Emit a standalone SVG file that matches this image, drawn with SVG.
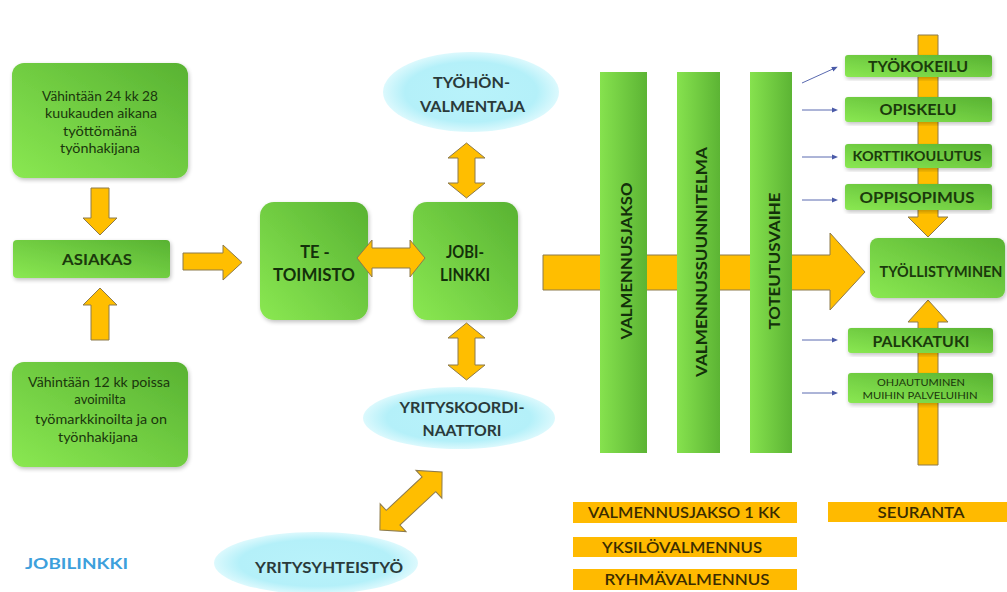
<svg xmlns="http://www.w3.org/2000/svg" width="1007" height="592" viewBox="0 0 1007 592">
<defs>
<linearGradient id="gr" x1="1" y1="0" x2="0" y2="1">
<stop offset="0" stop-color="#58b232"/>
<stop offset="1" stop-color="#8ae852"/>
</linearGradient>
<linearGradient id="grv" x1="1" y1="0" x2="0" y2="0">
<stop offset="0" stop-color="#5cb434"/>
<stop offset="1" stop-color="#86e24e"/>
</linearGradient>
<radialGradient id="cy" cx="0.5" cy="0.5" r="0.5">
<stop offset="0" stop-color="#b8f2fa"/>
<stop offset="0.75" stop-color="#b4f0f9"/>
<stop offset="1" stop-color="#dcf9fd"/>
</radialGradient>
<filter id="sh" x="-10%" y="-10%" width="125%" height="125%">
<feGaussianBlur in="SourceAlpha" stdDeviation="2"/>
<feOffset dx="1" dy="2"/>
<feComponentTransfer><feFuncA type="linear" slope="0.25"/></feComponentTransfer>
<feMerge><feMergeNode/><feMergeNode in="SourceGraphic"/></feMerge>
</filter>
<marker id="dot" markerWidth="6" markerHeight="6" refX="3" refY="3" orient="auto" markerUnits="userSpaceOnUse">
<path d="M0,0.5 L6,3 L0,5.5 Z" fill="#4a5aa8"/>
</marker>
</defs>
<style>
.box{fill:url(#gr);filter:url(#sh)}
.bar{fill:url(#grv)}
.ell{fill:url(#cy)}
.arr{fill:#ffbe00;stroke:#8c7a4c;stroke-width:1;stroke-linejoin:miter}
.thin{stroke:#5a6ab0;stroke-width:1;fill:none;marker-end:url(#dot)}
.ob{fill:#ffba00}
text{font-family:Lato,"Open Sans","Liberation Sans",sans-serif;text-anchor:middle}
.t{fill:#1a360c;font-size:13px}
.b{fill:#13300a;font-weight:bold;font-size:16.5px}
.c{fill:#2a3a3a;font-weight:bold;font-size:16px}
.r{fill:#1b3a0c;font-weight:bold;font-size:15.5px}
.o{fill:#3a2c00;font-size:16px;font-weight:600}
</style>
<rect width="1007" height="592" fill="#ffffff"/>

<g id="vaatimus1">
<rect class="box" x="12" y="63" width="176" height="115" rx="12"/>
<text class="t" x="100" y="101" textLength="116" lengthAdjust="spacingAndGlyphs">Vähintään 24 kk 28</text>
<text class="t" x="101" y="118" textLength="112" lengthAdjust="spacingAndGlyphs">kuukauden aikana</text>
<text class="t" x="100" y="136" textLength="74" lengthAdjust="spacingAndGlyphs">työttömänä</text>
<text class="t" x="100" y="153" textLength="80" lengthAdjust="spacingAndGlyphs">työnhakijana</text>
</g>
<g id="asiakas">
<rect class="box" x="13" y="240" width="157" height="38" rx="4"/>
<text class="r" x="97" y="265" style="font-size:16px" textLength="70" lengthAdjust="spacingAndGlyphs">ASIAKAS</text>
</g>
<g id="vaatimus2">
<rect class="box" x="12" y="362" width="176" height="105" rx="12"/>
<text class="t" x="99" y="387" textLength="142" lengthAdjust="spacingAndGlyphs">Vähintään 12 kk poissa</text>
<text class="t" x="100" y="404">avoimilta</text>
<text class="t" x="101" y="424" textLength="132" lengthAdjust="spacingAndGlyphs">työmarkkinoilta  ja on</text>
<text class="t" x="98" y="442" textLength="80" lengthAdjust="spacingAndGlyphs">työnhakijana</text>
</g>
<g id="te-toimisto">
<rect class="box" x="260" y="202" width="108" height="118" rx="14"/>
<text class="b" x="315" y="258">TE -</text>
<text class="b" x="314" y="281" textLength="82" lengthAdjust="spacingAndGlyphs">TOIMISTO</text>
</g>
<g id="jobilinkki">
<rect class="box" x="413" y="202" width="105" height="118" rx="14"/>
<text class="b" x="465" y="258" textLength="38" lengthAdjust="spacingAndGlyphs">JOBI-</text>
<text class="b" x="465" y="281" textLength="50" lengthAdjust="spacingAndGlyphs">LINKKI</text>
</g>
<g id="tyohonvalmentaja">
<ellipse class="ell" cx="471" cy="92" rx="88" ry="40"/>
<text class="c" x="471.5" y="88" textLength="77" lengthAdjust="spacingAndGlyphs">TYÖHÖN-</text>
<text class="c" x="472.5" y="112" textLength="105" lengthAdjust="spacingAndGlyphs">VALMENTAJA</text>
</g>
<g id="yrityskoordinaattori">
<ellipse class="ell" cx="459" cy="418" rx="96" ry="31"/>
<text class="c" x="462" y="413" textLength="125" lengthAdjust="spacingAndGlyphs">YRITYSKOORDI-</text>
<text class="c" x="462" y="436" textLength="79" lengthAdjust="spacingAndGlyphs">NAATTORI</text>
</g>
<g id="yritysyhteistyo">
<ellipse class="ell" cx="316" cy="563" rx="102" ry="31"/>
<text class="c" x="329" y="573" textLength="148" lengthAdjust="spacingAndGlyphs">YRITYSYHTEISTYÖ</text>
</g>

<g id="connectors">
<path class="arr" d="M91,188 H109 V218 H117 L100,235 L83,218 H91 Z"/>
<path class="arr" d="M100,288 L117,305 H109 V340 H91 V305 H83 Z"/>
<path class="arr" d="M183,253 H223 V245 L242,262.5 L223,280 V270 H183 Z"/>
<path class="arr" d="M357,258 L372,240 V248 H410 V240 L425,258 L410,277 V268 H372 V277 Z"/>
<path class="arr" d="M466.5,143 L485,158 H475 V183 H485 L466.5,198 L448,183 H458 V158 H448 Z"/>
<path class="arr" d="M466.5,323 L485,338 H475 V365 H485 L466.5,380 L448,365 H458 V338 H448 Z"/>
<path class="arr" transform="translate(411,501) rotate(-43)" d="M-42.5,0 L-24.5,-19 V-10 H24.5 V-19 L42.5,0 L24.5,19 V10 H-24.5 V19 Z"/>
<path class="arr" d="M543,255 H830 V233 L865,272 L830,310 V290 H543 Z"/>
<path class="arr" d="M918,35 H938 V217 H948 L928,237 L908,217 H918 Z"/>
<path class="arr" d="M928,300 L948,322 H938 V465 H918 V322 H908 Z"/>
<line class="thin" x1="802" y1="83" x2="835" y2="68"/>
<line class="thin" x1="802" y1="110" x2="835" y2="110"/>
<line class="thin" x1="802" y1="157" x2="835" y2="157"/>
<line class="thin" x1="802" y1="200" x2="835" y2="200"/>
<line class="thin" x1="802" y1="340" x2="835" y2="340"/>
<line class="thin" x1="802" y1="393" x2="835" y2="393"/>
</g>

<g id="valmennusjakso">
<rect class="bar" x="600" y="72" width="47" height="381"/>
<text class="b" style="font-size:16px" transform="translate(632,261) rotate(-90)" textLength="157" lengthAdjust="spacingAndGlyphs">VALMENNUSJAKSO</text>
</g>
<g id="valmennussuunnitelma">
<rect class="bar" x="677" y="72" width="43" height="381"/>
<text class="b" style="font-size:16px" transform="translate(707,262) rotate(-90)" textLength="230" lengthAdjust="spacingAndGlyphs">VALMENNUSSUUNNITELMA</text>
</g>
<g id="toteutusvaihe">
<rect class="bar" x="750" y="72" width="42" height="381"/>
<text class="b" style="font-size:16px" transform="translate(780,261) rotate(-90)" textLength="137" lengthAdjust="spacingAndGlyphs">TOTEUTUSVAIHE</text>
</g>
<g id="tyokokeilu">
<rect class="box" x="845" y="55" width="147" height="22" rx="3"/>
<text class="r" x="918" y="72" textLength="100" lengthAdjust="spacingAndGlyphs">TYÖKOKEILU</text>
</g>
<g id="opiskelu">
<rect class="box" x="845" y="97" width="147" height="25" rx="3"/>
<text class="r" x="918" y="115" textLength="77" lengthAdjust="spacingAndGlyphs">OPISKELU</text>
</g>
<g id="korttikoulutus">
<rect class="box" x="845" y="144" width="147" height="24" rx="3"/>
<text class="r" x="917" y="161" style="font-size:14px" textLength="129" lengthAdjust="spacingAndGlyphs">KORTTIKOULUTUS</text>
</g>
<g id="oppisopimus">
<rect class="box" x="845" y="184" width="147" height="26" rx="3"/>
<text class="r" x="917" y="203" style="font-size:16px" textLength="115" lengthAdjust="spacingAndGlyphs">OPPISOPIMUS</text>
</g>
<g id="tyollistyminen">
<rect class="box" x="870" y="238" width="135" height="60" rx="8"/>
<text class="r" x="941" y="277" style="font-size:15px" textLength="123" lengthAdjust="spacingAndGlyphs">TYÖLLISTYMINEN</text>
</g>
<g id="palkkatuki">
<rect class="box" x="848" y="328" width="145" height="25" rx="3"/>
<text class="r" x="921" y="347" style="font-size:16px" textLength="97" lengthAdjust="spacingAndGlyphs">PALKKATUKI</text>
</g>
<g id="ohjautuminen">
<rect class="box" x="848" y="373" width="145" height="30" rx="3"/>
<text class="t" x="921" y="386" style="font-size:9px" textLength="88" lengthAdjust="spacingAndGlyphs">OHJAUTUMINEN</text>
<text class="t" x="920" y="399" style="font-size:9px" textLength="115" lengthAdjust="spacingAndGlyphs">MUIHIN PALVELUIHIN</text>
</g>
<g id="valmennusjakso1kk">
<rect class="ob" x="573" y="502" width="224" height="21"/>
<text class="o" x="684" y="518" textLength="192" lengthAdjust="spacingAndGlyphs">VALMENNUSJAKSO 1 KK</text>
</g>
<g id="yksilovalmennus">
<rect class="ob" x="573" y="537" width="224" height="20"/>
<text class="o" x="682" y="553" textLength="160" lengthAdjust="spacingAndGlyphs">YKSILÖVALMENNUS</text>
</g>
<g id="ryhmavalmennus">
<rect class="ob" x="573" y="569" width="224" height="21"/>
<text class="o" x="687" y="585" textLength="165" lengthAdjust="spacingAndGlyphs">RYHMÄVALMENNUS</text>
</g>
<g id="seuranta">
<rect class="ob" x="828" y="502" width="179" height="20"/>
<text class="o" x="921" y="518" textLength="87" lengthAdjust="spacingAndGlyphs">SEURANTA</text>
</g>
<g id="otsikko">
<text x="25" y="569" style="text-anchor:start;fill:#3da0dc;font-weight:bold;font-size:16px" textLength="103" lengthAdjust="spacingAndGlyphs">JOBILINKKI</text>
</g>
</svg>
